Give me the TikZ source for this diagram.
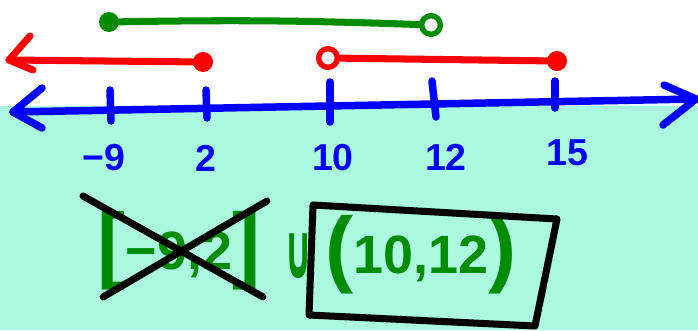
\documentclass[tikz,border=0pt]{standalone}
\usepackage{fontspec}
\usepackage{xcolor}
\setmainfont{Liberation Sans}
\newfontfamily\cupfont{DejaVu Sans}
\definecolor{mint}{RGB}{171,249,223}
\definecolor{pen}{RGB}{0,140,0}
\newcommand\tallbr[1]{{\fontsize{72}{72}\selectfont#1}}

\begin{document}
\begin{tikzpicture}[x=0.03cm, y=-0.03cm,
    axis/.style={line width=6.4pt, blue, line cap=round, line join=round},
    ray/.style={line width=6pt, line cap=round, line join=round},
    dotfill/.style={circle, fill, inner sep=0pt, minimum size=0.6cm},
    dothollow/.style={circle, draw, line width=4.6pt, inner sep=0pt, minimum size=0.56cm},
    tag/.style={blue, inner sep=0pt, font=\bfseries\fontsize{32}{32}\selectfont},
    hand/.style={pen, inner sep=0pt, font=\bfseries\fontsize{46}{46}\selectfont},
    cross/.style={line width=6pt, black, line cap=round, line join=round}]
\fill[white] (0,0) rectangle (698,106);
\fill[mint] (0,106) rectangle (698,330);
\useasboundingbox (0,0) rectangle (698,330);

\coordinate (L) at (13,112);
\coordinate (R) at (696,99);
\draw[axis] (L) -- (R);
\draw[axis] (42,88) -- (L) -- (42,128);
\draw[axis] (664,85) -- (R) -- (663,125);

\draw[axis] (110,90) -- (111,121);
\draw[axis] (206,90) -- (207,118);
\draw[axis] (330,82) -- (330,122);
\draw[axis] (432,81) -- (436,117);
\draw[axis] (555,81) -- (555,108);

\node[tag] (n9) at (104,158) {−9};
\node[tag] (n2) at (206,158) {2};
\node[tag] (n10) at (333,158) {10};
\node[tag] (n12) at (446,157) {12};
\node[tag] (n15) at (567,153) {15};

\coordinate (rl) at (9,60);
\node[dotfill, red] (r2) at (203,62) {};
\draw[ray, red] (rl) -- (r2);
\draw[ray, red] (30,36) -- (rl) -- (33,70);
\node[dothollow, red] (r10) at (328,58) {};
\node[dotfill, red] (r15) at (557,61) {};
\draw[ray, red] (r10) -- (r15);

\node[dotfill, pen] (g9) at (109,22) {};
\node[dothollow, pen] (g12) at (431,25) {};
\draw[ray, pen] (g9) to[bend left=1.5] (g12);

\node[hand] (left) at (179,251) {\tallbr{[}\raisebox{3pt}{−9,2}\tallbr{]}};
\node[hand, font=\cupfont\bfseries] (cup) at (299,256) {\scalebox{0.45}[1]{\fontsize{66}{66}\selectfont ∪}};
\node[hand] (right) at (421,255) {\tallbr{(}\raisebox{3pt}{10,12}\tallbr{)}};

\draw[cross] (83,196) -- (263,297);
\draw[cross] (267,201) -- (103,297);
\draw[cross] (313,205) -- (557,219) -- (535,326) -- (309,315) -- cycle;
\end{tikzpicture}
\end{document}
